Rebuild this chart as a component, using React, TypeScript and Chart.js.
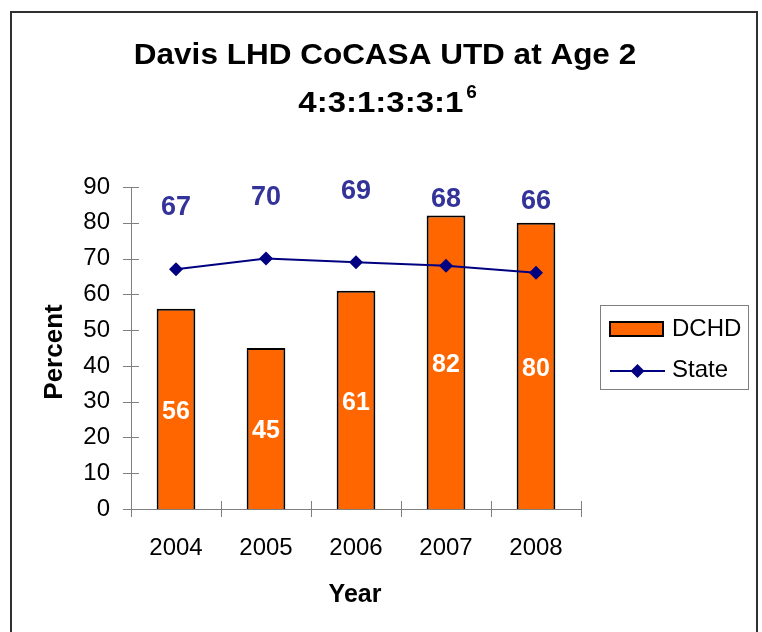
import React, { useEffect, useRef } from "react";
import { Chart, registerables } from "chart.js";

Chart.register(...registerables);

const years = ["2004", "2005", "2006", "2007", "2008"];
const dchdValues = [56, 45, 61, 82, 80];
const stateValues = [67, 70, 69, 68, 66];
const yTicks = [0, 10, 20, 30, 40, 50, 60, 70, 80, 90];
const titleLine1 = "Davis LHD CoCASA UTD at Age 2";
const titleLine2 = "4:3:1:3:3:1";
const titleSup = "6";
const FONT = '"Liberation Sans", Arial, sans-serif';

const decorPlugin = {
  id: "decor",
  afterDatasetsDraw(chart: any) {
    const ctx = chart.ctx;
    const y = chart.scales.y;
    const ca = chart.chartArea;
    ctx.save();
    // tick marks
    ctx.strokeStyle = "#7f7f7f";
    ctx.lineWidth = 1;
    ctx.beginPath();
    for (const v of yTicks) {
      const py = Math.round(y.getPixelForValue(v)) + 0.5;
      ctx.moveTo(ca.left - 8, py);
      ctx.lineTo(ca.left + 8, py);
    }
    const n = years.length;
    const step = (ca.right - ca.left) / n;
    for (let i = 0; i <= n; i++) {
      const px = Math.round(ca.left + i * step) + 0.5;
      ctx.moveTo(px, ca.bottom - 8);
      ctx.lineTo(px, ca.bottom + 8);
    }
    ctx.stroke();

    // bar labels (white, centered in bars)
    const barMeta = chart.getDatasetMeta(0);
    ctx.fillStyle = "#ffffff";
    ctx.font = `bold 25px ${FONT}`;
    ctx.textAlign = "center";
    ctx.textBaseline = "middle";
    barMeta.data.forEach((bar: any, i: number) => {
      const cy = (bar.y + bar.base) / 2;
      ctx.fillText(String(dchdValues[i]), bar.x, cy + 3);
    });

    // state labels above
    const nudge = chart.options.plugins.decor.stateLabelNudge;
    const lineMeta = chart.getDatasetMeta(1);
    ctx.fillStyle = "#333399";
    ctx.font = `bold 27px ${FONT}`;
    lineMeta.data.forEach((pt: any, i: number) => {
      const base = y.getPixelForValue(86);
      ctx.fillText(String(stateValues[i]), pt.x, base + nudge[i]);
    });
    ctx.restore();
  },
  afterDraw(chart: any) {
    const ctx = chart.ctx;
    ctx.save();
    // outer border
    ctx.strokeStyle = "#303030";
    ctx.lineWidth = 2;
    ctx.beginPath();
    ctx.moveTo(11, 700);
    ctx.lineTo(11, 12);
    ctx.lineTo(757, 12);
    ctx.lineTo(757, 700);
    ctx.stroke();

    // title
    ctx.fillStyle = "#000000";
    ctx.textBaseline = "alphabetic";
    ctx.font = `bold 30px ${FONT}`;
    ctx.textAlign = "center";
    ctx.save();
    ctx.translate(385, 64);
    ctx.scale(1.05, 1);
    ctx.fillText(titleLine1, 0, 0);
    ctx.restore();

    ctx.save();
    ctx.translate(298.3, 112);
    ctx.scale(1.1, 1);
    ctx.textAlign = "left";
    ctx.fillText(titleLine2, 0, 0);
    const w2 = ctx.measureText(titleLine2).width;
    ctx.restore();
    ctx.font = `bold 19px ${FONT}`;
    ctx.textAlign = "left";
    ctx.fillText(titleSup, 298.3 + w2 * 1.1 + 3, 98);

    // axis titles
    ctx.font = `bold 26px ${FONT}`;
    ctx.textAlign = "center";
    ctx.textBaseline = "middle";
    ctx.save();
    ctx.translate(55, 352);
    ctx.rotate(-Math.PI / 2);
    ctx.fillText("Percent", 0, 0);
    ctx.restore();
    ctx.font = `bold 25px ${FONT}`;
    ctx.textBaseline = "alphabetic";
    ctx.fillText("Year", 355, 601.7);

    // legend
    const ds0 = chart.data.datasets[0];
    const ds1 = chart.data.datasets[1];
    ctx.strokeStyle = "#7f7f7f";
    ctx.lineWidth = 1;
    ctx.strokeRect(600.5, 305.5, 148, 84);
    ctx.fillStyle = ds0.backgroundColor;
    ctx.fillRect(610, 322, 53, 14);
    ctx.strokeStyle = ds0.borderColor;
    ctx.lineWidth = 2;
    ctx.strokeRect(610, 322, 53, 14);
    ctx.strokeStyle = ds1.borderColor;
    ctx.lineWidth = 2;
    ctx.beginPath();
    ctx.moveTo(610, 371);
    ctx.lineTo(665, 371);
    ctx.stroke();
    ctx.fillStyle = ds1.pointBackgroundColor;
    ctx.beginPath();
    ctx.moveTo(637.5, 371 - 7);
    ctx.lineTo(637.5 + 7, 371);
    ctx.lineTo(637.5, 371 + 7);
    ctx.lineTo(637.5 - 7, 371);
    ctx.closePath();
    ctx.fill();
    ctx.fillStyle = "#000000";
    ctx.font = `24px ${FONT}`;
    ctx.textAlign = "left";
    ctx.textBaseline = "middle";
    ctx.fillText("DCHD", 672, 329);
    ctx.fillText("State", 672, 370);
    ctx.restore();
  },
};

export default function App() {
  const ref = useRef<HTMLCanvasElement | null>(null);
  useEffect(() => {
    if (!ref.current) return;
    const chart = new Chart(ref.current, {
      data: {
        labels: years,
        datasets: [
          {
            type: "bar",
            label: "DCHD",
            data: dchdValues,
            backgroundColor: "#FF6600",
            borderColor: "#000000",
            borderWidth: 2,
            barPercentage: 0.43,
            categoryPercentage: 1,
            order: 2,
          },
          {
            type: "line",
            label: "State",
            data: stateValues,
            borderColor: "#000080",
            backgroundColor: "#000080",
            pointBackgroundColor: "#000080",
            pointBorderColor: "#000080",
            borderWidth: 2,
            pointStyle: "rectRot",
            pointRadius: 7,
            pointBorderWidth: 0,
            tension: 0,
            order: 1,
          },
        ],
      } as any,
      options: {
        responsive: false,
        animation: false,
        layout: { padding: { top: 187, right: 181, bottom: 0, left: 0 } },
        plugins: {
          legend: { display: false },
          tooltip: { enabled: false },
          decor: { stateLabelNudge: [6, -4, -10, -2, 0] },
        } as any,
        scales: {
          x: {
            grid: { display: false, drawTicks: false },
            border: { display: true, color: "#7f7f7f", width: 1 },
            ticks: { color: "#000000", font: { family: FONT, size: 24 }, padding: 25, maxRotation: 0 },
            afterFit: (s: any) => { s.height = 123; },
          },
          y: {
            min: 0,
            max: 90,
            grid: { display: false, drawTicks: false },
            border: { display: true, color: "#7f7f7f", width: 1 },
            ticks: { stepSize: 10, color: "#000000", font: { family: FONT, size: 24 }, padding: 21 },
            afterFit: (s: any) => { s.width = 131; },
          },
        },
      } as any,
      plugins: [decorPlugin],
    });
    return () => chart.destroy();
  }, []);
  return (
    <div style={{ position: "absolute", left: 0, top: 0, width: 762, height: 632, background: "#fff" }}>
      <canvas ref={ref} width={762} height={632} style={{ width: 762, height: 632, display: "block" }} />
    </div>
  );
}
